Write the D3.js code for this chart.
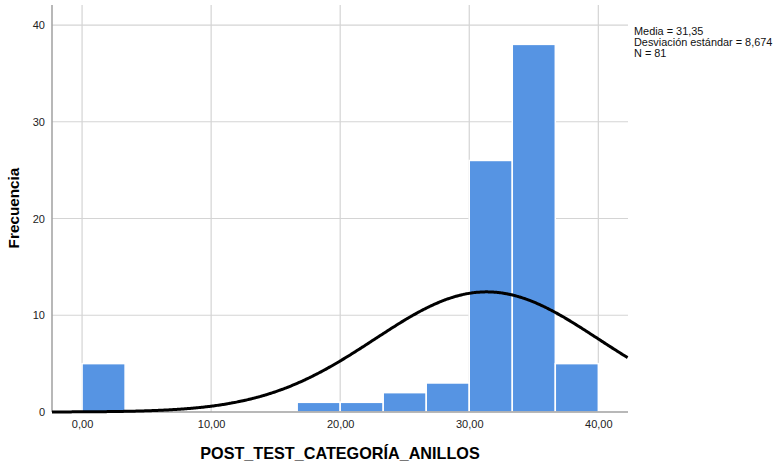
<!DOCTYPE html>
<html><head><meta charset="utf-8">
<script src="https://cdn.jsdelivr.net/npm/d3@7"></script>
<style>body{margin:0;background:#fff;} text{font-family:"Liberation Sans",Arial,sans-serif;}</style>
</head><body>
<svg id="c" width="773" height="466"></svg>
<script>
const binStarts = [0, 16.6667, 20, 23.3333, 26.6667, 30, 33.3333, 36.6667];
const binCounts = [5, 1, 1, 2, 3, 26, 38, 5];
const binWidth = 3.3333;
const xTicks = [0, 10, 20, 30, 40];
const xTickLabels = ["0,00", "10,00", "20,00", "30,00", "40,00"];
const yTicks = [0, 10, 20, 30, 40];
const mean = 31.35, sd = 8.674, n = 81;
const statLines = ["Media = 31,35", "Desviación estándar = 8,674", "N = 81"];

const svg = d3.select("#c");
const L = 52, R = 628, T = 5, B = 412;
const x = d3.scaleLinear().domain([-2.33, 42.3]).range([L, R]);
const y = d3.scaleLinear().domain([0, 42.07]).range([B, T]);

// gridlines
svg.append("g").selectAll("line").data(xTicks).join("line")
  .attr("x1", d => x(d)).attr("x2", d => x(d)).attr("y1", T).attr("y2", B)
  .attr("stroke", "#d4d4d4").attr("stroke-width", 1.2);
svg.append("g").selectAll("line").data(yTicks.filter(d => d > 0)).join("line")
  .attr("x1", L).attr("x2", R).attr("y1", d => y(d)).attr("y2", d => y(d))
  .attr("stroke", "#d4d4d4").attr("stroke-width", 1.2);

// bars
svg.append("g").selectAll("rect").data(binStarts).join("rect")
  .attr("x", (d) => x(d))
  .attr("width", (d) => x(d + binWidth) - x(d))
  .attr("y", (d, i) => y(binCounts[i]))
  .attr("height", (d, i) => B - y(binCounts[i]))
  .attr("fill", "#5694e3").attr("stroke", "#ffffff").attr("stroke-width", 1.5);

// axes lines
svg.append("line").attr("x1", L).attr("x2", L).attr("y1", T).attr("y2", B)
  .attr("stroke", "#a0a0a0").attr("stroke-width", 1.5);
svg.append("line").attr("x1", L).attr("x2", R).attr("y1", B).attr("y2", B)
  .attr("stroke", "#a0a0a0").attr("stroke-width", 1.5);

// normal curve
const xs = d3.range(-2.33, 42.31, 0.1);
const pdf = v => n * binWidth / (sd * Math.sqrt(2 * Math.PI)) * Math.exp(-0.5 * ((v - mean) / sd) ** 2);
svg.append("path").datum(xs)
  .attr("d", d3.line().x(d => x(d)).y(d => y(pdf(d))).curve(d3.curveBasis))
  .attr("fill", "none").attr("stroke", "#000").attr("stroke-width", 3);

// tick labels
const xa = d3.axisBottom(x).tickValues(xTicks).tickFormat((d, i) => xTickLabels[i]).tickSize(0).tickPadding(8);
const gx = svg.append("g").attr("transform", `translate(0,${B})`).call(xa);
gx.select(".domain").remove();
gx.selectAll("text").attr("font-size", 11).attr("fill", "#222").attr("font-family", "Liberation Sans, Arial");
const ya = d3.axisLeft(y).tickValues(yTicks).tickSize(0).tickPadding(7);
const gy = svg.append("g").attr("transform", `translate(${L},0)`).call(ya);
gy.select(".domain").remove();
gy.selectAll("text").attr("font-size", 11).attr("fill", "#222").attr("font-family", "Liberation Sans, Arial");

// axis titles
svg.append("text").attr("x", 340).attr("y", 459).attr("text-anchor", "middle")
  .attr("font-size", 16.2).attr("font-weight", "bold").attr("fill", "#000").text("POST_TEST_CATEGORÍA_ANILLOS");
svg.append("text").attr("transform", "translate(19,208) rotate(-90)").attr("text-anchor", "middle")
  .attr("font-size", 15.3).attr("font-weight", "bold").attr("fill", "#000").text("Frecuencia");

// stats
svg.append("g").selectAll("text").data(statLines).join("text")
  .attr("x", 634).attr("y", (d, i) => 35 + i * 11)
  .attr("font-size", 10.9).attr("fill", "#111").text(d => d);
</script>
</body></html>
